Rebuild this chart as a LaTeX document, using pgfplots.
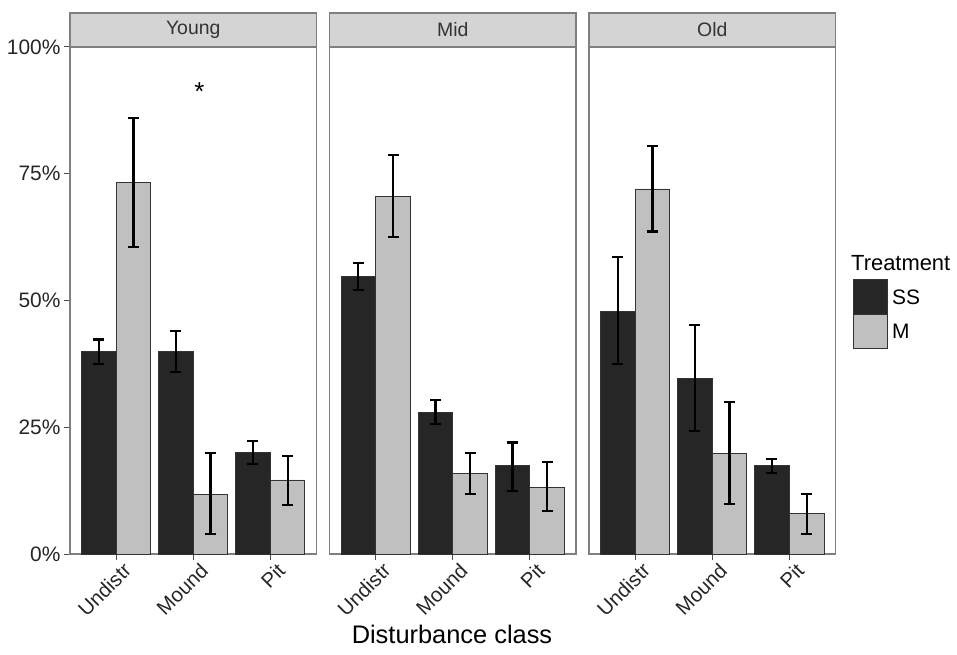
\documentclass[border=0pt]{standalone}
\usepackage{pgfplots}
\pgfplotsset{compat=1.18}
\usepackage{pgfplotstable}
\usepackage{fontspec}
\setmainfont{Liberation Sans}
\definecolor{ssfill}{HTML}{262626}
\definecolor{mfill}{HTML}{C0C0C0}
\definecolor{stripfill}{HTML}{D4D4D4}
\definecolor{border}{HTML}{7F7F7F}

% x positions: category - 0.225 (SS), category + 0.225 (M)
\pgfplotstableread{
x y ep em
0.775 40.0 2.3 2.5
1.775 40.0 4.0 4.1
2.775 20.0 2.3 2.3
}\youngSS
\pgfplotstableread{
x y ep em
1.225 73.3 12.7 12.8
2.225 11.8 8.1 7.9
3.225 14.6 4.8 4.9
}\youngM
\pgfplotstableread{
x y ep em
0.775 54.7 2.7 2.6
1.775 27.9 2.4 2.2
2.775 17.4 4.6 4.9
}\midSS
\pgfplotstableread{
x y ep em
1.225 70.6 8.1 8.1
2.225 15.9 4.0 4.1
3.225 13.2 4.9 4.7
}\midM
\pgfplotstableread{
x y ep em
0.775 47.9 10.7 10.5
1.775 34.6 10.5 10.4
2.775 17.4 1.3 1.5
}\oldSS
\pgfplotstableread{
x y ep em
1.225 72.0 8.4 8.4
2.225 19.9 10.1 10.1
3.225 7.9 4.0 4.0
}\oldM

\pgfplotsset{
  panel/.style={
    width=246.5bp, height=507bp, scale only axis,
    anchor=south west,
    xmin=0.4, xmax=3.6, ymin=0, ymax=100,
    xtick={1,2,3}, xticklabels={Undistr,Mound,Pit},
    xtick pos=bottom, ytick pos=left,
    tick align=outside, major tick length=6bp,
    tick style={black!70, line width=1bp},
    axis line style={border, line width=1.2bp},
    xticklabel style={rotate=45, anchor=north east, font=\fontsize{20.5}{24}\selectfont, text=black!85, inner sep=2bp, xshift=5bp, yshift=-3bp},
    yticklabel style={font=\fontsize{21}{24}\selectfont, text=black!85},
    clip=false,
  },
  barbase/.style={ybar, bar width=0.45, bar shift=0pt, draw=black!80, line width=0.9bp,
    mark options={line width=2.2bp},
    error bars/.cd, y dir=both, y explicit,
    error bar style={line width=2.2bp, draw=black, solid},
    error mark options={rotate=90, mark size=5.5bp, line width=2.2bp, draw=black, solid}},
  ss/.style={fill=ssfill, barbase},
  mm/.style={fill=mfill, barbase},
}

\begin{document}
\begin{tikzpicture}
\path[use as bounding box] (0,0) rectangle (957bp,655bp);

\begin{axis}[panel, name=young, at={(70bp,101bp)},
  ytick={0,25,50,75,100}, yticklabels={0\%,25\%,50\%,75\%,100\%}]
  \addplot[ss] table[x=x, y=y, y error plus=ep, y error minus=em] {\youngSS};
  \addplot[mm] table[x=x, y=y, y error plus=ep, y error minus=em] {\youngM};
  \node[font=\fontsize{26}{28}\selectfont] at (axis cs:2.08,91.2) {*};
\end{axis}

\begin{axis}[panel, name=mid, at={(329.5bp,101bp)}, ytick=\empty]
  \addplot[ss] table[x=x, y=y, y error plus=ep, y error minus=em] {\midSS};
  \addplot[mm] table[x=x, y=y, y error plus=ep, y error minus=em] {\midM};
\end{axis}

\begin{axis}[panel, name=old, at={(589bp,101bp)}, ytick=\empty]
  \addplot[ss] table[x=x, y=y, y error plus=ep, y error minus=em] {\oldSS};
  \addplot[mm] table[x=x, y=y, y error plus=ep, y error minus=em] {\oldM};
\end{axis}

\foreach \n/\t in {young/Young, mid/Mid, old/Old} {
  \draw[border, line width=1.2bp, fill=stripfill] (\n.north west) rectangle ([yshift=34bp]\n.north east);
  \node[font=\fontsize{19.5}{22}\selectfont, text=black!80] at ([yshift=17bp]\n.north) {\t};
}

\node[font=\fontsize{25.5}{28}\selectfont] at (452bp,21bp) {Disturbance class};

% legend
\node[anchor=base west, font=\fontsize{22}{24}\selectfont, inner sep=0pt] at (851bp,384bp) {Treatment};
\draw[fill=ssfill, draw=black!80, line width=0.9bp] (853bp,341bp) rectangle (887bp,376bp);
\draw[fill=mfill, draw=black!80, line width=0.9bp] (853bp,307bp) rectangle (887bp,341bp);
\node[anchor=west, font=\fontsize{21}{24}\selectfont, inner sep=0pt] at (892bp,358bp) {SS};
\node[anchor=west, font=\fontsize{21}{24}\selectfont, inner sep=0pt] at (892bp,324bp) {M};
\end{tikzpicture}
\end{document}
